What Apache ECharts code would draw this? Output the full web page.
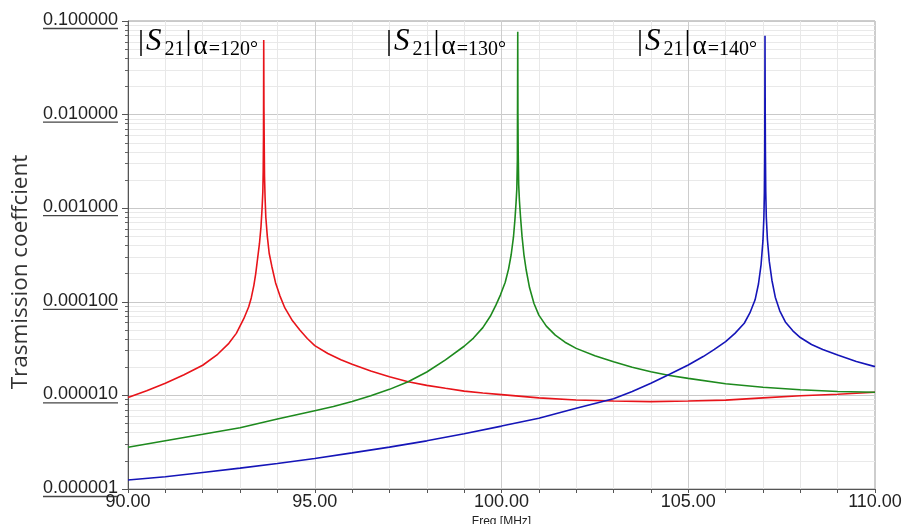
<!DOCTYPE html>
<html><head><meta charset="utf-8">
<script src="https://cdn.jsdelivr.net/npm/echarts@6/dist/echarts.min.js"></script>
<style>html,body{margin:0;padding:0;background:#fff}#c{width:904px;height:524px}</style>
</head><body><div id="c"></div>
<script>
// ---- data ----
const redFreq = [90, 90.5, 91, 91.5, 92, 92.4, 92.7, 92.9, 93.1, 93.23, 93.3, 93.37, 93.42, 93.47, 93.52, 93.56, 93.59, 93.61, 93.62, 93.628, 93.634, 93.64, 93.647, 93.655, 93.67, 93.69, 93.73, 93.78, 93.85, 93.95, 94.07, 94.2, 94.4, 94.6, 94.8, 95.0, 95.35, 95.7, 96, 96.5, 97, 97.5, 98, 98.5, 99, 99.5, 100, 101, 102, 103, 104, 105, 106, 107, 108, 109, 110];
const redVal  = [9.5e-6, 1.12e-5, 1.35e-5, 1.66e-5, 2.1e-5, 2.75e-5, 3.6e-5, 4.6e-5, 6.6e-5, 8.8e-5, 1.1e-4, 1.5e-4, 2.0e-4, 2.9e-4, 4.2e-4, 6.3e-4, 1.0e-3, 1.5e-3, 2.5e-3, 6e-3, 0.0627, 0.012, 5e-3, 2.2e-3, 1.3e-3, 8e-4, 5e-4, 3.3e-4, 2.4e-4, 1.6e-4, 1.15e-4, 8.6e-5, 6.3e-5, 5.0e-5, 4.05e-5, 3.4e-5, 2.8e-5, 2.4e-5, 2.15e-5, 1.82e-5, 1.58e-5, 1.40e-5, 1.28e-5, 1.19e-5, 1.11e-5, 1.06e-5, 1.02e-5, 9.4e-6, 8.93e-6, 8.7e-6, 8.57e-6, 8.7e-6, 8.9e-6, 9.4e-6, 9.9e-6, 1.03e-5, 1.08e-5];

const greenFreq = [90, 91, 92, 93, 94, 95, 95.5, 96, 96.5, 97, 97.5, 98, 98.5, 99, 99.25, 99.5, 99.7, 99.85, 99.97, 100.1, 100.19, 100.26, 100.32, 100.36, 100.39, 100.41, 100.425, 100.435, 100.44, 100.447, 100.46, 100.48, 100.51, 100.55, 100.6, 100.66, 100.75, 100.87, 101, 101.2, 101.44, 101.7, 102, 102.5, 103, 103.5, 104, 104.5, 105, 106, 107, 108, 109, 110];
const greenVal  = [2.79e-6, 3.28e-6, 3.84e-6, 4.52e-6, 5.6e-6, 6.87e-6, 7.6e-6, 8.6e-6, 9.9e-6, 1.16e-5, 1.40e-5, 1.78e-5, 2.4e-5, 3.35e-5, 4.1e-5, 5.3e-5, 7.0e-5, 9.2e-5, 1.18e-4, 1.62e-4, 2.25e-4, 3.2e-4, 4.9e-4, 7.6e-4, 1.15e-3, 1.6e-3, 3.3e-3, 0.0769, 0.01, 4e-3, 1.8e-3, 1.2e-3, 8e-4, 5e-4, 3.2e-4, 2.2e-4, 1.42e-4, 9.6e-5, 7.2e-5, 5.5e-5, 4.4e-5, 3.7e-5, 3.18e-5, 2.65e-5, 2.29e-5, 2.0e-5, 1.79e-5, 1.63e-5, 1.52e-5, 1.33e-5, 1.22e-5, 1.15e-5, 1.10e-5, 1.08e-5];

const blueFreq = [90, 91, 92, 93, 94, 95, 96, 97, 98, 99, 100, 101, 102, 103, 103.5, 104, 104.5, 105, 105.4, 105.7, 106, 106.25, 106.5, 106.65, 106.79, 106.88, 106.95, 107.0, 107.025, 107.04, 107.048, 107.055, 107.06, 107.066, 107.075, 107.09, 107.12, 107.17, 107.24, 107.33, 107.45, 107.6, 107.8, 108, 108.3, 108.6, 109, 109.5, 110];
const blueVal  = [1.25e-6, 1.35e-6, 1.5e-6, 1.67e-6, 1.87e-6, 2.12e-6, 2.43e-6, 2.8e-6, 3.27e-6, 3.9e-6, 4.7e-6, 5.69e-6, 7.3e-6, 9.2e-6, 1.1e-5, 1.35e-5, 1.68e-5, 2.11e-5, 2.6e-5, 3.1e-5, 3.75e-5, 4.6e-5, 5.9e-5, 7.6e-5, 1.05e-4, 1.55e-4, 2.5e-4, 4.5e-4, 8e-4, 1.5e-3, 4e-3, 0.0697, 0.013, 4e-3, 1.5e-3, 8e-4, 4.6e-4, 2.7e-4, 1.7e-4, 1.12e-4, 8e-5, 6.1e-5, 4.9e-5, 4.15e-5, 3.5e-5, 3.1e-5, 2.7e-5, 2.3e-5, 2.03e-5];

const xMajorTicks = [90, 95, 100, 105, 110];
const xTickLabels = ['90.00', '95.00', '100.00', '105.00', '110.00'];
const yDecades = [1e-6, 1e-5, 1e-4, 1e-3, 1e-2, 1e-1];
const yTickLabels = ['0.000001', '0.000010', '0.000100', '0.001000', '0.010000', '0.100000'];
const annotations = ['120°', '130°', '140°'];

// minor log grid positions (exponent space) for 2..9 x 10^n
const yMinorExp = [];
for (let n = -6; n < -1; n++) for (let k = 2; k <= 9; k++) yMinorExp.push(n + Math.log10(k));

const zip = (a, b) => a.map((f, i) => [f, b[i]]);

const chart = echarts.init(document.getElementById('c'), null, {renderer: 'canvas'});

function ann(x, deg) {
  return {
    type: 'text', x: x, y: 60, silent: true, z: 100,
    style: {
      text: '{b||}{s|S}{n|21}{b2||}{a|α}{e|=' + deg + '}',
      verticalAlign: 'bottom', align: 'left',
      rich: {
        b: {fontFamily: 'Liberation Serif', fontSize: 30, lineHeight: 30, verticalAlign: 'bottom', color: '#222', padding: [0, 0, 3, 0]},
        s: {fontFamily: 'Liberation Serif', fontStyle: 'italic', fontSize: 31, lineHeight: 31, verticalAlign: 'bottom', color: '#222', padding: [0, 3, 3, 2]},
        n: {fontFamily: 'Liberation Serif', fontSize: 20, lineHeight: 20, verticalAlign: 'bottom', color: '#222'},
        b2: {fontFamily: 'Liberation Serif', fontSize: 30, lineHeight: 30, verticalAlign: 'bottom', color: '#222', padding: [0, 2, 3, 1]},
        a: {fontFamily: 'Liberation Serif', fontSize: 27, lineHeight: 27, verticalAlign: 'bottom', color: '#222', padding: [0, 1, 0, 0]},
        e: {fontFamily: 'Liberation Serif', fontSize: 20, lineHeight: 20, verticalAlign: 'bottom', color: '#222'}
      }
    }
  };
}

const lineSeries = (name, f, v, color) => ({
  name, type: 'line', data: zip(f, v), showSymbol: false, symbol: 'none',
  xAxisIndex: 0, yAxisIndex: 0,
  lineStyle: {color, width: 1.6}, itemStyle: {color}, animation: false, z: 5
});

chart.setOption({
  backgroundColor: '#ffffff',
  animation: false,
  grid: {left: 128, right: 29, top: 21, bottom: 35, containLabel: false, outerBoundsMode: 'none',
         show: true, borderColor: '#9a9a9a', borderWidth: 1},
  xAxis: {
    type: 'value', min: 90, max: 110, interval: 1,
    axisLine: {show: true, onZero: false, lineStyle: {color: '#555', width: 1}},
    axisTick: {show: true, length: 4, lineStyle: {color: '#555'}},
    axisLabel: {
      margin: 4, fontSize: 18, fontFamily: 'Liberation Sans', color: '#222', hideOverlap: false,
      formatter: v => { const i = xMajorTicks.indexOf(Math.round(v * 100) / 100); return i >= 0 ? xTickLabels[i] : ''; }
    },
    splitLine: {show: true, lineStyle: {color: ['#cdcdcd', '#e8e8e8', '#e8e8e8', '#e8e8e8', '#e8e8e8'], width: 1}},
    name: 'Freq [MHz]', nameLocation: 'middle', nameGap: 17,
    nameTextStyle: {fontSize: 12, fontFamily: 'Liberation Sans', color: '#222'}
  },
  yAxis: [{
    type: 'log', logBase: 10, min: 1e-6, max: 0.1,
    axisLine: {show: true, lineStyle: {color: '#555', width: 1}},
    axisTick: {show: true, length: 6, lineStyle: {color: '#555'}},
    axisLabel: {
      margin: 10,
      formatter: v => {
        let best = 0;
        yDecades.forEach((d, i) => { if (Math.abs(Math.log10(d) - Math.log10(v)) < 1e-6) best = i; });
        return '{v|' + yTickLabels[best] + '}\n{u|}';
      },
      rich: {
        v: {fontSize: 18, fontFamily: 'Liberation Sans', color: '#222', lineHeight: 15, align: 'right'},
        u: {width: 75, height: 1.3, lineHeight: 2, backgroundColor: '#444', align: 'right'}
      }
    },
    splitLine: {show: true, lineStyle: {color: '#c9c9c9', width: 1}}
  }, {
    type: 'value', min: -6, max: -1, position: 'left',
    axisLine: {show: false},
    axisLabel: {show: false},
    axisTick: {show: true, length: 3, customValues: yMinorExp, lineStyle: {color: '#666'}},
    splitLine: {show: true, customValues: yMinorExp, lineStyle: {color: '#e9e9e9', width: 1}}
  }],
  graphic: [
    ann(138, annotations[0]),
    ann(386, annotations[1]),
    ann(637, annotations[2]),
    {type: 'text', x: 21, y: 272, rotation: Math.PI / 2, silent: true,
     style: {text: 'Trasmission coeffcient', fontFamily: 'Open Sans', fontSize: 22.5, fill: '#333', align: 'center', verticalAlign: 'middle'}}
  ],
  series: [
    lineSeries('α=120°', redFreq, redVal, '#e8141a'),
    lineSeries('α=130°', greenFreq, greenVal, '#1e8a1e'),
    lineSeries('α=140°', blueFreq, blueVal, '#1515b8')
  ]
});
</script>
</body></html>
